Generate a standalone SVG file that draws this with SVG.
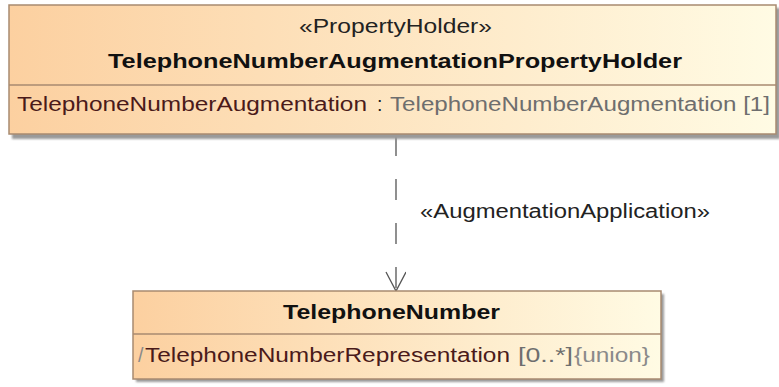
<svg xmlns="http://www.w3.org/2000/svg" width="779" height="387" viewBox="0 0 779 387">
<defs>
<linearGradient id="fill" x1="0" y1="0" x2="1" y2="0">
<stop offset="0" stop-color="#fcd0a0"/>
<stop offset="1" stop-color="#fffbe4"/>
</linearGradient>
<filter id="sh" x="-5%" y="-5%" width="110%" height="120%">
<feGaussianBlur stdDeviation="1"/>
</filter>
<marker id="open" markerWidth="24" markerHeight="24" refX="20" refY="10" orient="auto" markerUnits="userSpaceOnUse">
<path d="M1,0 L20,10 L1,20" fill="none" stroke="#555" stroke-width="1.3"/>
</marker>
</defs>
<style>
.box{fill:url(#fill);stroke:#a88a70;stroke-width:1.5}
.shadow{fill:#9a9a9a;filter:url(#sh)}
.sep{stroke:#a88a70;stroke-width:1.5}
text{font-family:"Liberation Sans",Arial,sans-serif;font-size:19.5px}
.b{font-weight:bold;fill:#111}
.st{fill:#222}
.nm{fill:#4a1a1a}
.ty{fill:#6e6e6e}
.lt{fill:#8a8a8a}
</style>
<rect width="779" height="387" fill="#ffffff"/>
<g id="connectors">
<line x1="396" y1="135" x2="396" y2="291" stroke="#555" stroke-width="1.3" stroke-dasharray="21 23" marker-end="url(#open)"/>
<text class="st" x="420" y="218" textLength="290" lengthAdjust="spacingAndGlyphs">«AugmentationApplication»</text>
</g>
<g id="TelephoneNumberAugmentationPropertyHolder">
<rect class="shadow" x="12" y="8" width="768" height="131"/>
<rect class="box" x="9" y="5" width="767" height="129"/>
<line class="sep" x1="9" y1="85" x2="776" y2="85"/>
<text class="st" x="299" y="33" textLength="193" lengthAdjust="spacingAndGlyphs">«PropertyHolder»</text>
<text class="b" x="108" y="68" font-size="21" textLength="574" lengthAdjust="spacingAndGlyphs">TelephoneNumberAugmentationPropertyHolder</text>
<text class="nm" x="17" y="111" textLength="350" lengthAdjust="spacingAndGlyphs">TelephoneNumberAugmentation</text>
<text class="st" x="377" y="111">:</text>
<text class="ty" x="390" y="111" textLength="380" lengthAdjust="spacingAndGlyphs">TelephoneNumberAugmentation [1]</text>
</g>
<g id="TelephoneNumber">
<rect class="shadow" x="136" y="294" width="528" height="88"/>
<rect class="box" x="133" y="291" width="528" height="88"/>
<line class="sep" x1="133" y1="334" x2="661" y2="334"/>
<text class="b" x="283" y="319" font-size="21" textLength="217" lengthAdjust="spacingAndGlyphs">TelephoneNumber</text>
<text class="lt" x="138" y="362">/</text>
<text class="nm" x="145" y="362" textLength="365" lengthAdjust="spacingAndGlyphs">TelephoneNumberRepresentation</text>
<text class="ty" x="518" y="362" textLength="55" lengthAdjust="spacingAndGlyphs">[0..*]</text>
<text class="lt" x="574" y="362" textLength="76" lengthAdjust="spacingAndGlyphs">{union}</text>
</g>
</svg>
